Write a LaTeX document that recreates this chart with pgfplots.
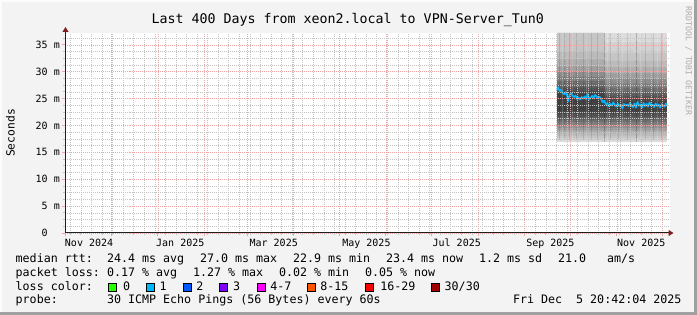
\documentclass[border=0pt]{standalone}
\usepackage{pgfplots}
\pgfplotsset{compat=1.18}
\usepackage{fontspec}
\setmainfont{DejaVu Sans Mono}
\usetikzlibrary{arrows.meta}
\frenchspacing
\definecolor{bgc}{HTML}{F3F3F3}
\definecolor{shadeA}{HTML}{FCFCFC}
\definecolor{shadeB}{HTML}{A0A0A0}
\definecolor{gridc}{HTML}{C4C4C4}
\definecolor{mgridc}{HTML}{EEA6A6}
\definecolor{arrowc}{HTML}{7F1F1F}
\definecolor{axisc}{HTML}{1F1F1F}
\definecolor{med}{HTML}{00B8FF}
\definecolor{wmc}{HTML}{ADADAD}
\definecolor{lc0}{HTML}{26FF00}
\definecolor{lc1}{HTML}{00B8FF}
\definecolor{lc2}{HTML}{0059FF}
\definecolor{lc3}{HTML}{7E00FF}
\definecolor{lc4}{HTML}{FF00FF}
\definecolor{lc5}{HTML}{FF5500}
\definecolor{lc6}{HTML}{FF0000}
\definecolor{lc7}{HTML}{A10000}
\begin{document}
\begin{tikzpicture}[x=1pt,y=1pt,
  lg/.style={anchor=base west, inner sep=0pt, font=\fontsize{11.66}{14}\selectfont},
  sq/.style={draw=black, line width=0.8pt}]
\fill[bgc] (0,0) rectangle (697,315);
\fill[shadeA] (0,0) rectangle (2,315);
\fill[shadeA] (0,313) rectangle (697,315);
\fill[shadeB] (694,0) rectangle (697,315);
\fill[shadeB] (0,0) rectangle (697,3);
\begin{axis}[
  at={(65.5pt,82pt)}, anchor=origin,
  scale only axis, width=604pt, height=200pt,
  xmin=0, xmax=400, ymin=0, ymax=37.2,
  axis background/.style={fill=white},
  axis on top,
  axis x line=bottom, axis y line=left,
  x axis line style={draw=axisc, line width=1pt, shorten >=-4pt, -{Triangle[length=5pt,width=6pt,color=arrowc]}},
  y axis line style={draw=axisc, line width=1pt, shorten >=-6pt, -{Triangle[length=5pt,width=6pt,color=arrowc]}},
  xtick={0.14,30.14,61.14,92.14,120.14,151.14,181.14,212.14,242.14,273.14,304.14,334.14,365.14,395.14},
  xticklabels={},
  minor xtick={3.14,10.14,...,395.14},
  extra x ticks={15.6,76,137.9,199.3,259.1,321.1,381.3},
  extra x tick labels={Nov 2024,Jan 2025,Mar 2025,May 2025,Jul 2025,Sep 2025,Nov 2025},
  extra x tick style={grid=none, major tick length=0pt},
  ytick={0,5,...,35},
  yticklabels={{0\hphantom{\ m}},{5 m},{10 m},{15 m},{20 m},{25 m},{30 m},{35 m}},
  minor ytick={1.25,2.5,...,36.25},
  grid=both,
  major grid style={draw=mgridc, line width=0.6pt, dash pattern=on 1pt off 1pt},
  minor grid style={draw=gridc, line width=0.6pt, dash pattern=on 1pt off 1pt},
  tick align=outside,
  major tick length=3pt, minor tick length=2pt,
  major tick style={draw=mgridc, line width=0.8pt},
  minor tick style={draw=gridc, line width=0.8pt},
  tick label style={font=\fontsize{10}{12}\selectfont},
  /pgf/number format/assume math mode=true,
  xticklabel style={anchor=base, inner sep=0pt, yshift=-13.3pt},
  yticklabel style={anchor=east, inner sep=0pt, xshift=-2.5pt},
  ylabel={Seconds},
  ylabel style={at={(axis description cs:-0.0911,0.5)}, anchor=center, inner sep=0pt, font=\fontsize{11.3}{13}\selectfont},
]
% smoke bands (outer to inner): lower edge, upper edge before and after day 356.6
\addplot[draw=none, fill={rgb,255:red,220;green,220;blue,220}] coordinates {(325.5,16.9) (398.3,16.9) (398.3,37.2) (325.5,37.2)} -- cycle;
\addplot[draw=none, fill={rgb,255:red,210;green,210;blue,210}] coordinates {(325.5,17.3) (398.3,17.3) (398.3,35.5) (356.6,35.5) (356.6,37.2) (325.5,37.2)} -- cycle;
\addplot[draw=none, fill={rgb,255:red,198;green,198;blue,198}] coordinates {(325.5,17.7) (398.3,17.7) (398.3,33.5) (356.6,33.5) (356.6,37.2) (325.5,37.2)} -- cycle;
\addplot[draw=none, fill={rgb,255:red,186;green,186;blue,186}] coordinates {(325.5,18.1) (398.3,18.1) (398.3,32.0) (356.6,32.0) (356.6,33.8) (325.5,33.8)} -- cycle;
\addplot[draw=none, fill={rgb,255:red,173;green,173;blue,173}] coordinates {(325.5,18.6) (398.3,18.6) (398.3,30.8) (356.6,30.8) (356.6,32.3) (325.5,32.3)} -- cycle;
\addplot[draw=none, fill={rgb,255:red,158;green,158;blue,158}] coordinates {(325.5,19.1) (398.3,19.1) (398.3,29.7) (356.6,29.7) (356.6,31.0) (325.5,31.0)} -- cycle;
\addplot[draw=none, fill={rgb,255:red,142;green,142;blue,142}] coordinates {(325.5,19.6) (398.3,19.6) (398.3,28.7) (356.6,28.7) (356.6,30.0) (325.5,30.0)} -- cycle;
\addplot[draw=none, fill={rgb,255:red,126;green,126;blue,126}] coordinates {(325.5,20.1) (398.3,20.1) (398.3,27.8) (356.6,27.8) (356.6,29.1) (325.5,29.1)} -- cycle;
\addplot[draw=none, fill={rgb,255:red,110;green,110;blue,110}] coordinates {(325.5,20.6) (398.3,20.6) (398.3,27.0) (356.6,27.0) (356.6,28.3) (325.5,28.3)} -- cycle;
\addplot[draw=none, fill={rgb,255:red,96;green,96;blue,96}] coordinates {(325.5,21.1) (398.3,21.1) (398.3,26.2) (356.6,26.2) (356.6,27.6) (325.5,27.6)} -- cycle;
\addplot[draw=none, fill={rgb,255:red,84;green,84;blue,84}] coordinates {(325.5,21.6) (398.3,21.6) (398.3,25.5) (356.6,25.5) (356.6,27.0) (325.5,27.0)} -- cycle;
\addplot[draw=none, fill={rgb,255:red,74;green,74;blue,74}] coordinates {(325.5,22.1) (398.3,22.1) (398.3,24.9) (356.6,24.9) (356.6,26.4) (325.5,26.4)} -- cycle;
\addplot[draw=none, fill={rgb,255:red,66;green,66;blue,66}] coordinates {(325.5,22.6) (398.3,22.6) (398.3,24.4) (356.6,24.4) (356.6,25.9) (325.5,25.9)} -- cycle;
% vertical streaks in the smoke
\addplot[draw=black, draw opacity=0.10, line width=0.9pt, unbounded coords=jump] coordinates {
(327.0,17.3) (327.0,37.2) (nan,nan) (330.5,17.3) (330.5,37.2) (nan,nan)
(334.0,17.3) (334.0,37.2) (nan,nan) (338.5,17.3) (338.5,37.2) (nan,nan)
(343.0,17.3) (343.0,37.2) (nan,nan) (348.0,17.3) (348.0,37.2) (nan,nan)
(352.5,17.3) (352.5,37.2) (nan,nan) (361.0,17.3) (361.0,37.2) (nan,nan)
(366.5,17.3) (366.5,37.2) (nan,nan) (372.0,17.3) (372.0,37.2) (nan,nan)
(384.0,17.3) (384.0,37.2) (nan,nan) (389.5,17.3) (389.5,37.2) (nan,nan)
(394.5,17.3) (394.5,37.2)};
\addplot[draw=black, draw opacity=0.22, line width=0.9pt, unbounded coords=jump] coordinates {
(356.6,17.0) (356.6,37.2) (nan,nan) (378.4,17.0) (378.4,37.2)};
\addplot[draw=white, draw opacity=0.16, line width=0.9pt, unbounded coords=jump] coordinates {
(329.0,17.3) (329.0,37.2) (nan,nan) (336.0,17.3) (336.0,37.2) (nan,nan)
(345.0,17.3) (345.0,37.2) (nan,nan) (359.0,17.3) (359.0,37.2) (nan,nan)
(369.0,17.3) (369.0,37.2) (nan,nan) (381.0,17.3) (381.0,37.2) (nan,nan)
(392.0,17.3) (392.0,37.2)};
% median rtt
\addplot[draw=med, line width=1.6pt, line join=round] coordinates {
(325.6,26.6) (326.3,27.1) (327.2,26.4) (328.2,26.7) (329.2,26.0) (330.2,25.8)
(331.2,26.2) (332.2,25.6) (333.0,24.5) (333.8,25.7) (334.8,26.0) (335.8,25.5)
(336.8,25.3) (337.8,25.6) (338.8,24.9) (339.8,25.2) (340.8,24.8) (341.8,25.3)
(342.8,25.0) (343.8,25.4) (344.8,24.9) (345.8,25.9) (346.8,24.8) (347.8,25.2)
(348.8,25.5) (349.8,25.1) (350.8,25.7) (351.8,25.4) (352.8,25.0) (353.8,25.3)
(354.8,24.9) (355.8,24.3) (356.8,24.6) (357.8,23.9) (358.8,24.2) (359.8,23.6)
(360.8,24.0) (361.8,23.7) (362.8,24.3) (363.8,23.8) (364.8,23.5) (365.8,24.1)
(366.8,23.6) (367.8,23.9) (368.8,23.2) (369.8,24.0) (370.8,23.7) (371.8,23.9)
(372.8,23.6) (373.8,24.2) (374.8,23.8) (375.8,23.4) (376.8,24.1) (377.8,23.3)
(378.8,24.4) (379.8,23.7) (380.8,23.9) (381.8,23.3) (382.8,24.2) (383.8,23.6)
(384.8,24.0) (385.8,23.5) (386.8,24.3) (387.8,23.7) (388.8,23.9) (389.8,23.4)
(390.8,24.1) (391.8,23.6) (392.8,23.9) (393.8,23.3) (394.8,24.0) (395.8,23.7)
(396.8,23.5) (397.6,24.1) (398.3,23.6)};
\end{axis}
% title and watermark
\node[anchor=base, inner sep=0pt, font=\fontsize{13.3}{16}\selectfont] at (347.7,291.7) {Last 400 Days from xeon2.local to VPN-Server\_Tun0};
\node[rotate=-90, anchor=center, inner sep=0pt, font=\fontsize{8.2}{10}\selectfont, text=wmc] at (688.5,254) {RRDTOOL / TOBI OETIKER};
% legend line 1
\node[lg] at (15.5,52.3) {median rtt:};
\node[lg] at (106.8,52.3) {24.4 ms avg};
\node[lg] at (199.8,52.3) {27.0 ms max};
\node[lg] at (292.8,52.3) {22.9 ms min};
\node[lg] at (385.8,52.3) {23.4 ms now};
\node[lg] at (478.8,52.3) {1.2 ms sd};
\node[lg] at (557.8,52.3) {21.0};
\node[lg] at (606.8,52.3) {am/s};
% legend line 2
\node[lg] at (15.5,38.3) {packet loss:};
\node[lg] at (106.8,38.3) {0.17 \% avg};
\node[lg] at (192.8,38.3) {1.27 \% max};
\node[lg] at (278.8,38.3) {0.02 \% min};
\node[lg] at (364.8,38.3) {0.05 \% now};
% legend line 3
\node[lg] at (15.5,24.5) {loss color:};
\filldraw[sq, fill=lc0] (108.5,24) rectangle (116.5,32);
\node[lg] at (122.8,24.5) {0};
\filldraw[sq, fill=lc1] (145.9,24) rectangle (153.9,32);
\node[lg] at (159.5,24.5) {1};
\filldraw[sq, fill=lc2] (182.9,24) rectangle (190.9,32);
\node[lg] at (196.2,24.5) {2};
\filldraw[sq, fill=lc3] (219.5,24) rectangle (227.5,32);
\node[lg] at (232.8,24.5) {3};
\filldraw[sq, fill=lc4] (256.9,24) rectangle (264.9,32);
\node[lg] at (270.2,24.5) {4-7};
\filldraw[sq, fill=lc5] (306.9,24) rectangle (314.9,32);
\node[lg] at (320.2,24.5) {8-15};
\filldraw[sq, fill=lc6] (365.2,24) rectangle (373.2,32);
\node[lg] at (380.2,24.5) {16-29};
\filldraw[sq, fill=lc7] (430.9,24) rectangle (438.9,32);
\node[lg] at (444.5,24.5) {30/30};
% legend line 4
\node[lg] at (15.5,11.5) {probe:};
\node[lg] at (106.8,11.5) {30 ICMP Echo Pings (56 Bytes) every 60s};
\node[lg] at (512.8,11.5) {Fri Dec\ \ 5 20:42:04 2025};
\pgfresetboundingbox
\useasboundingbox (0,0) rectangle (697,315);
\end{tikzpicture}
\end{document}
